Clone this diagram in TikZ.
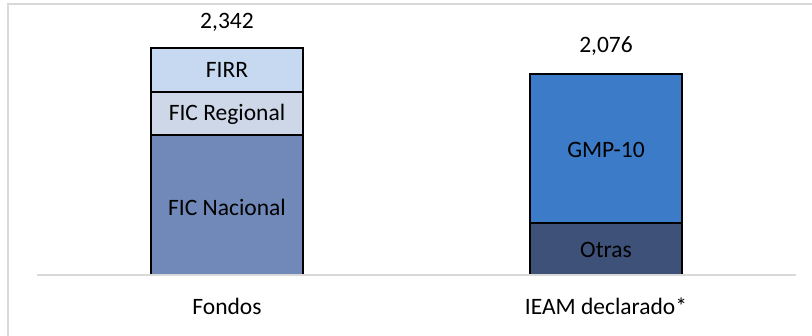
\documentclass[tikz,border=0pt]{standalone}
\usepackage{fontspec}
\setmainfont{Carlito}
\usetikzlibrary {positioning}

\definecolor{firr}{RGB}{198,217,240}
\definecolor{ficreg}{RGB}{206,215,231}
\definecolor{ficnac}{RGB}{113,137,185}
\definecolor{gmp}{RGB}{60,123,200}
\definecolor{otras}{RGB}{61,81,121}
\definecolor{rejilla}{RGB}{217,217,217}

\tikzset{
  tramo/.style={draw=black, line width=1.9pt},
  etq/.style={font=\fontsize{23.5}{28}\selectfont, inner sep=0pt}
}

\begin{document}
\begin{tikzpicture}[x=1pt,y=-1pt]
\useasboundingbox (0,0) rectangle (812,335);

% marco del grafico
\draw[rejilla, line width=1.5pt] (8,340) -- (8,4) -- (815,4);

% barra Fondos
\coordinate (F1) at (151,275);
\coordinate (F2) at (303,135);
\coordinate (F3) at (151,135);
\coordinate (F4) at (303,92);
\coordinate (F5) at (151,92);
\coordinate (F6) at (303,48);

\draw[tramo, fill=ficnac] (F1) rectangle (F2);

\draw[tramo, fill=ficreg] (F3) rectangle (F4);

\draw[tramo, fill=firr] (F5) rectangle (F6);

% barra IEAM
\coordinate (I1) at (530,275);
\coordinate (I2) at (682,223);
\coordinate (I3) at (530,223);
\coordinate (I4) at (682,74);

\draw[tramo, fill=otras] (I1) rectangle (I2);

\draw[tramo, fill=gmp] (I3) rectangle (I4);

% eje
\coordinate (E1) at (37,275);
\coordinate (E2) at (796,275);
\draw[rejilla, line width=1.5pt] (E1) -- (E2);

\node[etq] (T1) at (227,22) {2,342};
\node[etq] (T2) at (606,46) {2,076};

\node[etq] (L1) at (227,70) {FIRR};
\node[etq] (L2) at (227,114) {FIC Regional};
\node[etq] (L3) at (227,207) {FIC Nacional};

\node[etq] (L4) at (606,150) {GMP-10};
\node[etq] (L5) at (606,250) {Otras};

\node[etq] (X1) at (227,306) {Fondos};
\node[etq] (X2) at (606,306) {IEAM declarado*};
\end{tikzpicture}
\end{document}
